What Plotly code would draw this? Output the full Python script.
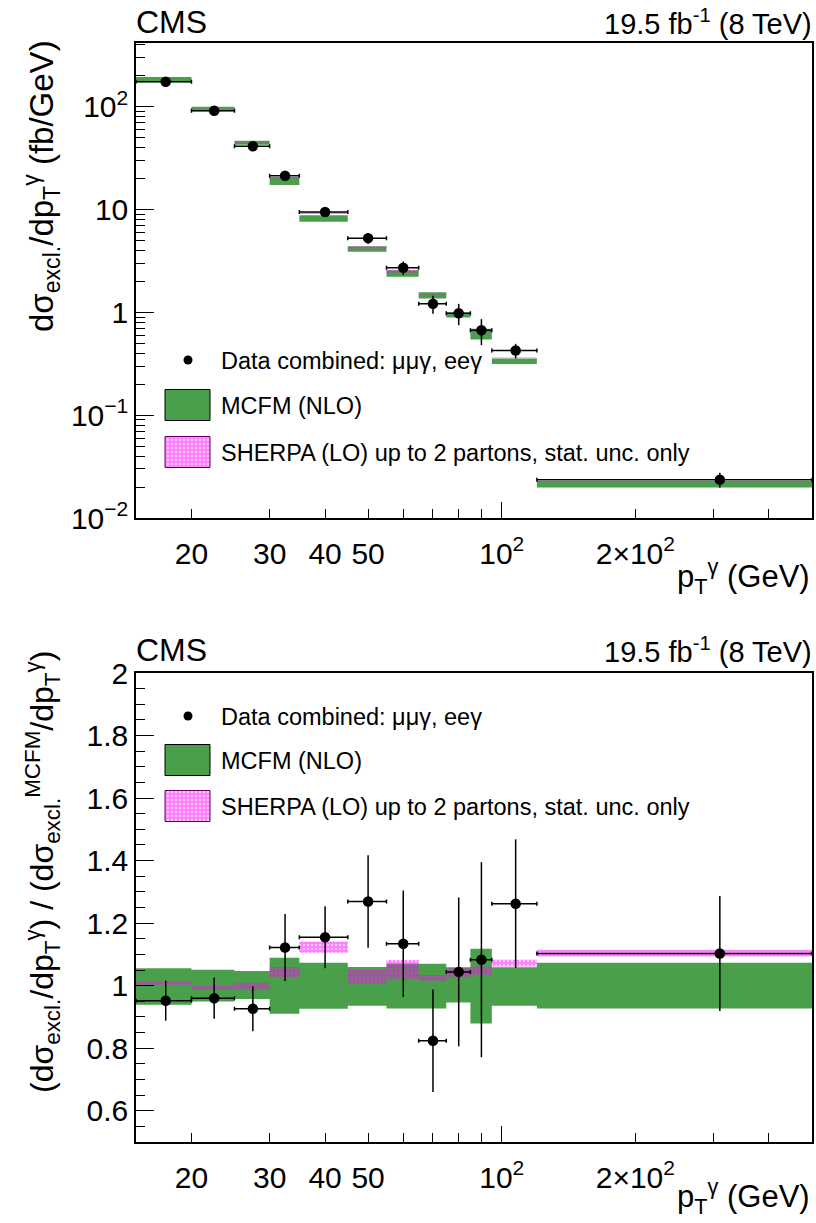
import math
import plotly.graph_objects as go

W, H = 816, 1223

# ---------------- data ----------------
bin_edges = [15, 20, 25, 30, 35, 45, 55, 65, 75, 85, 95, 120, 500]
bin_centers = [17.5, 22.5, 27.5, 32.5, 40, 50, 60, 70, 80, 90, 107.5, 310]

data_xsec = [175, 91.5, 41.3, 21.3, 9.45, 5.27, 2.72, 1.21, 0.98, 0.67, 0.425, 0.0236]
data_xsec_err = [11.8, 6.3, 3.2, 2.0, 0.81, 0.61, 0.41, 0.24, 0.23, 0.19, 0.069, 0.0039]

mcfm_xsec = [184, 95, 44.5, 19.0, 8.2, 4.15, 2.4, 1.47, 0.94, 0.62, 0.337, 0.0214]
mcfm_rel_up = [0.056, 0.051, 0.047, 0.089, 0.073, 0.060, 0.070, 0.070, 0.059, 0.118, 0.059, 0.073]
mcfm_rel_dn = [0.061, 0.051, 0.043, 0.090, 0.074, 0.064, 0.073, 0.073, 0.054, 0.121, 0.064, 0.073]

sherpa_xsec = [186, 94.3, 44.4, 19.8, 9.2, 4.27, 2.52, 1.5, 0.98, 0.65, 0.361, 0.0236]
sherpa_ratio = [1.009, 0.993, 0.998, 1.044, 1.123, 1.029, 1.052, 1.025, 1.041, 1.048, 1.072, 1.104]
sherpa_ratio_err = [0.006, 0.007, 0.011, 0.016, 0.018, 0.022, 0.030, 0.009, 0.015, 0.013, 0.011, 0.011]

data_ratio = [0.952, 0.960, 0.926, 1.122, 1.155, 1.269, 1.134, 0.824, 1.044, 1.083, 1.262, 1.103]
data_ratio_err = [0.064, 0.066, 0.072, 0.107, 0.099, 0.148, 0.170, 0.164, 0.238, 0.312, 0.206, 0.184]

x_tickvals = [20, 30, 40, 50, 60, 70, 80, 90, 100, 200, 300, 400]
x_ticktext = ["20", "30", "40", "50", "", "", "", "", "10<sup>2</sup>", "2×10<sup>2</sup>", "", ""]
x_long_tick = [100]
y_top_tickvals = [0.01, 0.1, 1, 10, 100]
y_top_ticktext = ["10<sup>−2</sup>", "10<sup>−1</sup>", "1", "10", "10<sup>2</sup>"]
y_top_minor = [m * 10 ** e for e in range(-2, 3) for m in range(2, 10) if m * 10 ** e < 410]
y_bot_tickvals = [0.6, 0.8, 1.0, 1.2, 1.4, 1.6, 1.8, 2.0]
y_bot_ticktext = ["0.6", "0.8", "1", "1.2", "1.4", "1.6", "1.8", "2"]
y_bot_minor = [round(0.5 + 0.05 * k, 2) for k in range(31)]

# ---------------- style ----------------
FONT = "Liberation Sans, Arial, Helvetica, sans-serif"
GREEN = "#4aa04a"
PINK = "#ff00ff"
n = len(bin_centers)


def boxes(lo, hi):
    xs, ys = [], []
    for i in range(n):
        x0, x1 = bin_edges[i], bin_edges[i + 1]
        xs += [x0, x1, x1, x0, x0, None]
        ys += [lo[i], lo[i], hi[i], hi[i], lo[i], None]
    return xs, ys


PATTERN = dict(shape=".", fgcolor=PINK, bgcolor="rgba(255,255,255,0)",
               size=4, solidity=0.8, fillmode="overlay")


def green_trace(lo, hi, xa, ya):
    xs, ys = boxes(lo, hi)
    return go.Scatter(x=xs, y=ys, xaxis=xa, yaxis=ya, mode="lines", fill="toself",
                      fillcolor=GREEN, line=dict(width=0, color=GREEN),
                      hoverinfo="skip", showlegend=False)


def pink_trace(lo, hi, xa, ya):
    xs, ys = boxes(lo, hi)
    return go.Scatter(x=xs, y=ys, xaxis=xa, yaxis=ya, mode="lines", fill="toself",
                      fillcolor="rgba(0,0,0,0)", fillpattern=PATTERN,
                      line=dict(width=0, color=PINK), hoverinfo="skip", showlegend=False)


def data_trace(y, yerr, xa, ya):
    ex_plus = [bin_edges[i + 1] - bin_centers[i] for i in range(n)]
    ex_minus = [bin_centers[i] - bin_edges[i] for i in range(n)]
    return go.Scatter(x=bin_centers, y=y, xaxis=xa, yaxis=ya, mode="markers",
                      marker=dict(color="black", size=10.5, symbol="circle"),
                      error_x=dict(type="data", symmetric=False, array=ex_plus, arrayminus=ex_minus,
                                   color="black", thickness=1.5, width=2),
                      error_y=dict(type="data", array=yerr, color="black", thickness=1.5, width=0),
                      showlegend=False)


fig = go.Figure()

# top panel
mcfm_lo = [mcfm_xsec[i] * (1 - mcfm_rel_dn[i]) for i in range(n)]
mcfm_hi = [mcfm_xsec[i] * (1 + mcfm_rel_up[i]) for i in range(n)]
sh_lo = [sherpa_xsec[i] * (1 - sherpa_ratio_err[i] / sherpa_ratio[i]) for i in range(n)]
sh_hi = [sherpa_xsec[i] * (1 + sherpa_ratio_err[i] / sherpa_ratio[i]) for i in range(n)]
fig.add_trace(green_trace(mcfm_lo, mcfm_hi, "x", "y"))
fig.add_trace(pink_trace(sh_lo, sh_hi, "x", "y"))
fig.add_trace(data_trace(data_xsec, data_xsec_err, "x", "y"))

# ratio panel
r_lo = [1 - v for v in mcfm_rel_dn]
r_hi = [1 + v for v in mcfm_rel_up]
s_lo = [sherpa_ratio[i] - sherpa_ratio_err[i] for i in range(n)]
s_hi = [sherpa_ratio[i] + sherpa_ratio_err[i] for i in range(n)]
fig.add_trace(green_trace(r_lo, r_hi, "x2", "y2"))
fig.add_trace(pink_trace(s_lo, s_hi, "x2", "y2"))
fig.add_trace(data_trace(data_ratio, data_ratio_err, "x2", "y2"))

# ---------------- layout ----------------
PL, PR = 136, 812
TOP_T, TOP_B = 43, 518
BOT_T, BOT_B = 673, 1142


def px_x(p):
    return p / W


def px_y(p):
    return 1 - p / H


XR = [math.log10(bin_edges[0]), math.log10(bin_edges[-1])]
TICKFONT = dict(family=FONT, size=30, color="black")


def xaxis(anchor):
    return dict(type="log", range=XR, domain=[px_x(PL), px_x(PR)], anchor=anchor,
                showline=True, linecolor="black", linewidth=1.5, mirror=True,
                ticks="inside", ticklen=9, tickwidth=1, tickcolor="black",
                tickmode="array", tickvals=x_tickvals, ticktext=x_ticktext,
                showgrid=False, zeroline=False, tickfont=TICKFONT, ticklabelstandoff=8)


def tick_overlay(kind, over, anchor, typ, rng, dom, vals, length):
    d = dict(type=typ, range=rng, domain=dom, anchor=anchor, overlaying=over,
             showline=False, ticks="inside", ticklen=length, tickwidth=1, tickcolor="black",
             tickmode="array", tickvals=vals, showticklabels=False,
             showgrid=False, zeroline=False)
    d["side"] = "bottom" if kind == "x" else "left"
    return d


YR_TOP = [-2, 2.62]
YR_BOT = [0.5, 2.0]
XD = [px_x(PL), px_x(PR)]
YD_TOP = [px_y(TOP_B), px_y(TOP_T)]
YD_BOT = [px_y(BOT_B), px_y(BOT_T)]

fig.update_layout(
    width=W, height=H, margin=dict(l=0, r=0, t=0, b=0, autoexpand=False),
    paper_bgcolor="white", plot_bgcolor="rgba(0,0,0,0)", showlegend=False,
    font=dict(family=FONT, color="black"),
    xaxis=xaxis("y"),
    xaxis2=xaxis("y2"),
    yaxis=dict(type="log", range=YR_TOP, domain=YD_TOP, anchor="x",
               showline=True, linecolor="black", linewidth=1.5, mirror=True,
               ticks="inside", ticklen=18, tickwidth=1, tickcolor="black",
               tickmode="array", tickvals=y_top_tickvals, ticktext=y_top_ticktext,
               showgrid=False, zeroline=False, tickfont=TICKFONT),
    yaxis2=dict(range=YR_BOT, domain=YD_BOT, anchor="x2",
                showline=True, linecolor="black", linewidth=1.5, mirror=True,
                ticks="inside", ticklen=18, tickwidth=1, tickcolor="black",
                tickmode="array", tickvals=y_bot_tickvals, ticktext=y_bot_ticktext,
                showgrid=False, zeroline=False, tickfont=TICKFONT),
    xaxis3=dict(domain=[0, 1], range=[0, W], visible=False, anchor="y3"),
    yaxis3=dict(domain=[0, 1], range=[H, 0], visible=False, anchor="x3"),
    # tick-only overlays (minor / long ticks)
    xaxis4=tick_overlay("x", "x", "y", "log", XR, XD, x_long_tick, 16),
    xaxis5=tick_overlay("x", "x2", "y2", "log", XR, XD, x_long_tick, 16),
    yaxis4=tick_overlay("y", "y", "x", "log", YR_TOP, YD_TOP, y_top_minor, 9),
    yaxis5=tick_overlay("y", "y2", "x2", "linear", YR_BOT, YD_BOT, y_bot_minor, 9),
)

# dummy traces so the overlay axes get drawn
for xa, ya in [("x4", "y"), ("x5", "y2"), ("x", "y4"), ("x2", "y5")]:
    fig.add_trace(go.Scatter(x=[bin_centers[0]], y=[1], xaxis=xa, yaxis=ya, mode="markers",
                             marker=dict(size=0.1, color="rgba(0,0,0,0)"), hoverinfo="skip",
                             showlegend=False))

ann = []


def text(x, y, s, size, xanchor="left", yanchor="middle", angle=0):
    ann.append(dict(x=px_x(x), y=px_y(y), xref="paper", yref="paper", text=s, showarrow=False,
                    xanchor=xanchor, yanchor=yanchor, textangle=angle,
                    font=dict(family=FONT, size=size, color="black")))


for top in (22, 650):
    text(PL - 2, top, "CMS", 32)
    text(PR + 2, top, "19.5 fb<sup>-1</sup> (8 TeV)", 29, xanchor="right")

text(PR, 576, "p<sub>T</sub><sup>γ</sup> (GeV)", 31, xanchor="right")
text(PR, 1196, "p<sub>T</sub><sup>γ</sup> (GeV)", 31, xanchor="right")
text(42, 186, "dσ<sub>excl.</sub>/dp<sub>T</sub><sup>γ</sup> (fb/GeV)", 33,
     xanchor="center", angle=-90)
text(42, 872, "(dσ<sub>excl.</sub>/dp<sub>T</sub><sup>γ</sup>) / "
              "(dσ<sub>excl.</sub><sup>MCFM</sup>/dp<sub>T</sub><sup>γ</sup>)", 32,
     xanchor="center", angle=-90)

# legends (decorations in pixel space)
legend_labels = ["Data combined: μμγ, eeγ", "MCFM (NLO)",
                 "SHERPA (LO) up to 2 partons, stat. unc. only"]
legend_rows = {"top": [360, 405, 452], "bot": [716, 760, 806]}
BOX_X0, BOX_X1, BOX_H = 165, 210, 31
for key, rows in legend_rows.items():
    fig.add_trace(go.Scatter(x=[188], y=[rows[0]], xaxis="x3", yaxis="y3", mode="markers",
                             marker=dict(color="black", size=9), hoverinfo="skip",
                             showlegend=False))
    for j, pat in enumerate([False, True]):
        yc = rows[j + 1]
        xs = [BOX_X0, BOX_X1, BOX_X1, BOX_X0, BOX_X0]
        ys = [yc - BOX_H / 2, yc - BOX_H / 2, yc + BOX_H / 2, yc + BOX_H / 2, yc - BOX_H / 2]
        kw = {}
        if pat:
            kw["fillpattern"] = PATTERN
        fig.add_trace(go.Scatter(x=xs, y=ys, xaxis="x3", yaxis="y3", mode="lines",
                                 fill="toself", fillcolor="rgba(0,0,0,0)" if pat else GREEN,
                                 line=dict(color="#600060" if pat else "black", width=1),
                                 hoverinfo="skip", showlegend=False, **kw))
    for j, lab in enumerate(legend_labels):
        text(219, rows[j] + 1, lab, 23.5)

fig.update_layout(annotations=ann)
fig.write_html("out.html")
